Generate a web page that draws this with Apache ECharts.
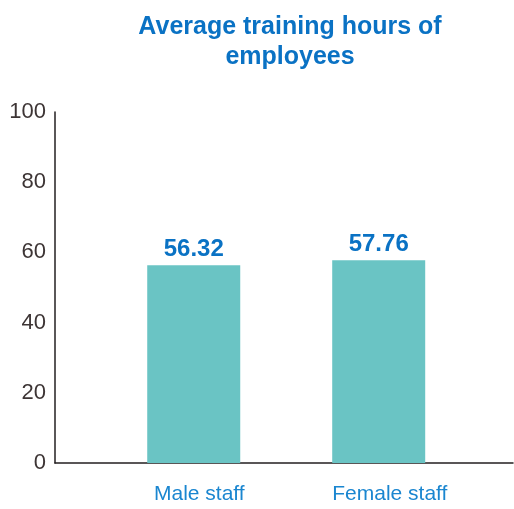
<!DOCTYPE html>
<html lang="en">
<head>
    <meta charset="UTF-8">
    <title>Average training hours</title>
    <style>
        * { margin: 0; padding: 0; }
        #main { width: 514px; height: 509px; background: #fff; }
    </style>
    <script src="https://cdn.jsdelivr.net/npm/echarts@6/dist/echarts.min.js"></script>
</head>
<body>
<div id="main"></div>
<script>
    var categories = ['Male staff', 'Female staff'];
    var hours = [56.32, 57.76];
    var yTicks = [0, 20, 40, 60, 80, 100];

    // bars sit at 0.75 and 1.75 on a hidden numeric x scale
    var slots = [0.75, 1.75];
    var labelSlots = [0.78, 1.81];

    var myChart = echarts.init(document.getElementById('main'));
    var option = {
        animation: false,
        title: {
            text: 'Average training hours of\nemployees',
            left: 285,
            top: 7,
            textAlign: 'center',
            textStyle: {
                color: '#0A72C4',
                fontSize: 25,
                fontWeight: 'bold',
                fontFamily: 'Liberation Sans, Arial, sans-serif',
                lineHeight: 30
            }
        },
        grid: { left: 55, right: 1, top: 112, bottom: 46, containLabel: false },
        xAxis: {
            type: 'value',
            min: 0,
            max: 2.476,
            splitLine: { show: false },
            axisTick: { show: false },
            axisLine: { show: true, lineStyle: { color: '#231F20', width: 1.5 } },
            axisLabel: {
                customValues: labelSlots,
                margin: 21,
                color: '#1A86D0',
                fontSize: 21,
                fontFamily: 'Liberation Sans, Arial, sans-serif',
                formatter: function (v) {
                    var i = labelSlots.indexOf(v);
                    return i >= 0 ? categories[i] : '';
                }
            }
        },
        yAxis: {
            type: 'value',
            min: yTicks[0],
            max: yTicks[yTicks.length - 1],
            interval: 20,
            splitLine: { show: false },
            axisTick: { show: false },
            axisLine: { show: true, lineStyle: { color: '#231F20', width: 1.5 } },
            axisLabel: {
                margin: 9,
                color: '#3D3535',
                fontSize: 22,
                fontFamily: 'Liberation Sans, Arial, sans-serif'
            }
        },
        series: [{
            type: 'bar',
            barWidth: 93,
            itemStyle: { color: '#6AC4C4' },
            label: {
                show: true,
                position: 'top',
                distance: 4,
                color: '#0A72C4',
                fontSize: 24,
                fontWeight: 'bold',
                fontFamily: 'Liberation Sans, Arial, sans-serif',
                formatter: function (p) { return hours[p.dataIndex].toFixed(2); }
            },
            data: hours.map(function (h, i) { return [slots[i], h]; })
        }]
    };
    myChart.setOption(option);
</script>
</body>
</html>
